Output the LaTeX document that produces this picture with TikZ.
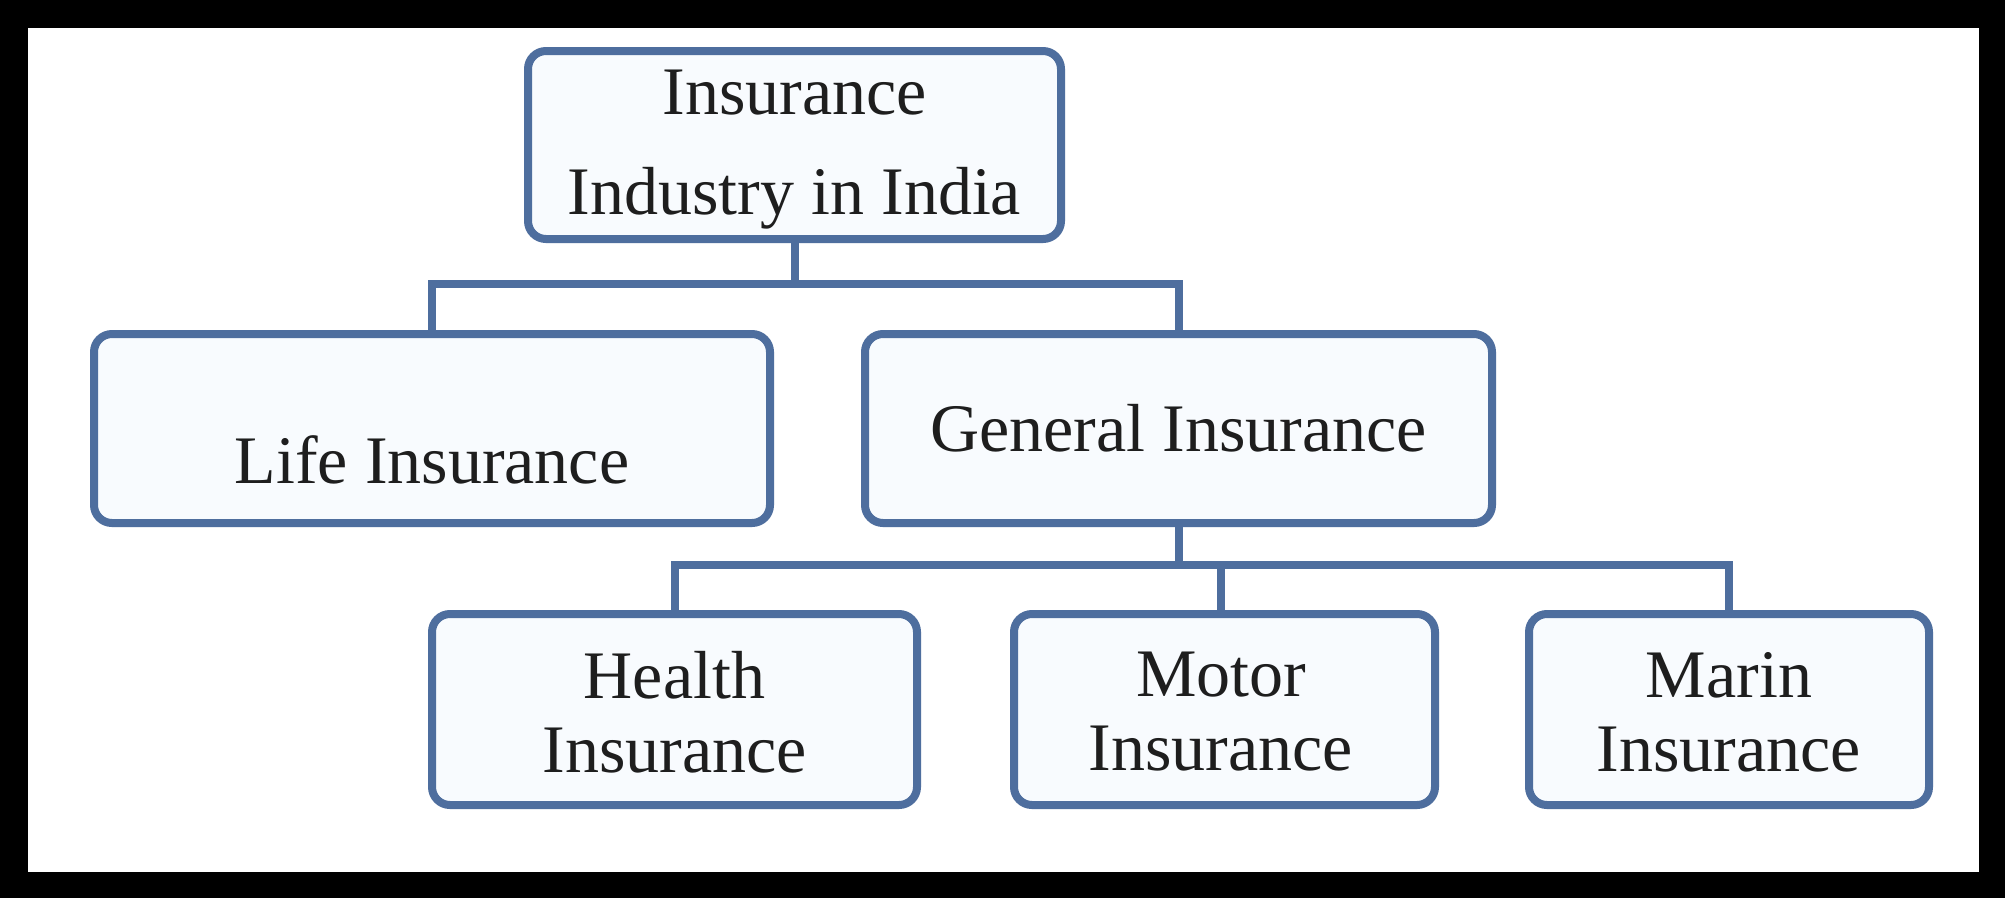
\documentclass[tikz,border=0pt]{standalone}
\usepackage{fontspec}
\setmainfont{Liberation Serif}
\definecolor{edge}{HTML}{4E6E9E}
\definecolor{boxfill}{HTML}{F8FBFE}
\definecolor{ink}{HTML}{1E1E1E}
\begin{document}
\begin{tikzpicture}[x=1pt,y=-1pt,
  box/.style={draw=edge, line width=8pt, rounded corners=18pt, fill=boxfill, text=ink, align=center, inner sep=0pt, minimum height=189pt, font=\fontsize{68}{74}\selectfont},
  txt/.style={text=ink, align=center, inner sep=0pt, font=\fontsize{68}{74}\selectfont},
  conn/.style={draw=edge, line width=8pt}]
\useasboundingbox (0,0) rectangle (2005,898);
\fill[black] (0,0) rectangle (2005,898);
\fill[white] (28,28) rectangle (1979,872);
\coordinate (j1) at (794.5,284);
\coordinate (j2) at (1178.5,565);
\node[box, minimum width=533pt, minimum height=188pt] (top) at (794.5,145) {};
\node[txt, font=\fontsize{68}{100}\selectfont] (toptext) at (794.5,150) {Insurance\\Industry in India};
\node[box, minimum width=676pt] (life) at (432,428.5) {};
\node[txt] (lifetext) at (432,460) {Life Insurance};
\node[box, minimum width=627pt] (gen) at (1178.5,428.5) {General Insurance};
\node[box, minimum width=485pt, minimum height=191pt] (health) at (674.5,709.5) {};
\node[txt] (healthtext) at (674.5,712) {Health\\Insurance};
\node[box, minimum width=421pt, minimum height=191pt] (motor) at (1224.5,709.5) {};
\node[txt] (motortext) at (1221,712) {Motor\\Insurance};
\node[box, minimum width=400pt, minimum height=191pt] (marin) at (1729,709.5) {};
\node[txt] (marintext) at (1729,712) {Marin\\Insurance};
\draw[conn] (top.south) -- (j1);
\draw[conn] (life.north) |- (j1) -| (gen.north);
\draw[conn] (gen.south) -- (j2);
\draw[conn] (health.north) |- (j2) -| (marin.north);
\draw[conn] (motortext |- motor.north) |- (j2);
\end{tikzpicture}
\end{document}
